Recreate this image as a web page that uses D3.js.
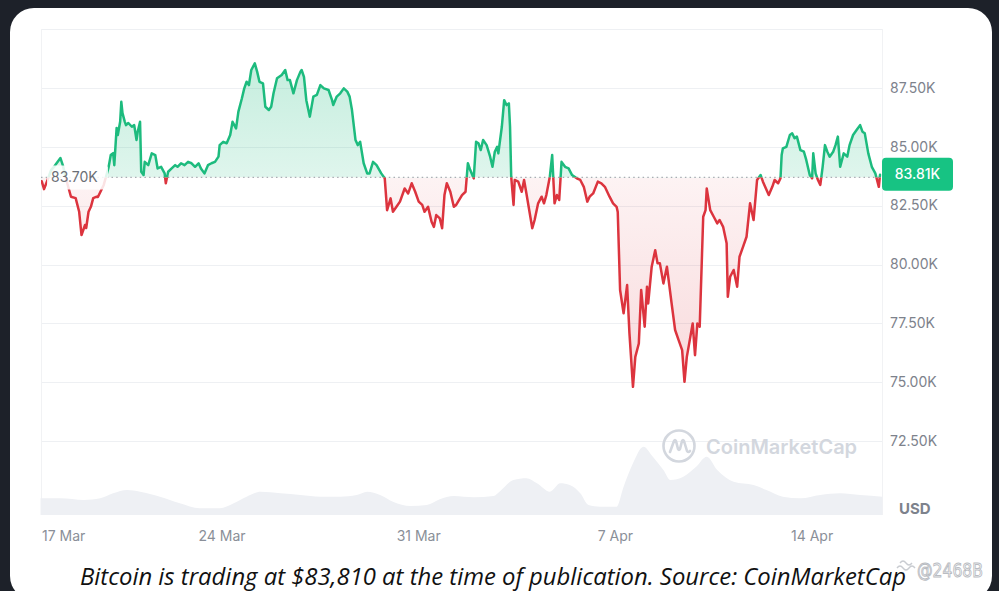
<!DOCTYPE html>
<html>
<head>
<meta charset="utf-8">
<script src="https://cdn.jsdelivr.net/npm/d3@7"></script>
<style>
  html, body { margin: 0; padding: 0; background: #1d2129; }
  svg { display: block; }
</style>
</head>
<body>
<svg id="chart" width="999" height="591"></svg>
<script>
// ---------------- DATA ----------------
const startTime = "2025-03-17T00:00";           // time origin of the hour offsets
const domainHours = [13.4, 731.7];                // visible time window (hours after start)
const baselinePrice = 83700;                      // opening price of the window
const lastPrice = 83810;

// BTC price: hours after startTime, and price in USD
const priceHours = [14,16,19,22,25,30,32,36,39,43,46,48,51,52,54,56,58,61,62,67,71,73,75,76,78,79,81,82,83,85,86,88,91,93,95,96,98,99,101,102,105,108,111,113,116,119,120,122,125,128,130,133,136,139,142,145,148,150,153,156,159,162,165,166,169,172,175,177,180,182,185,187,189,191,193,196,198,200,203,205,208,210,212,215,219,222,224,226,229,232,235,236,238,240,243,246,249,252,255,259,262,263,266,269,272,275,277,279,282,284,286,289,292,294,297,300,304,307,309,312,314,317,320,324,327,330,333,336,339,341,344,347,349,351,354,356,358,360,363,366,368,373,376,378,380,383,385,387,389,391,394,397,399,401,403,404,407,409,411,413,414,415,417,418,421,424,426,428,433,435,438,441,443,445,448,450,452,454,456,458,461,464,467,471,474,477,480,482,485,489,492,495,499,502,505,506,508,511,514,516,519,521,524,526,529,531,532,535,538,540,542,545,548,552,555,558,561,563,565,568,570,572,574,576,579,581,582,585,588,591,593,596,599,600,602,605,608,610,613,616,619,622,625,628,630,635,638,640,643,645,646,647,650,653,655,657,659,662,665,667,670,672,673,675,677,679,681,683,685,687,690,692,694,696,699,702,704,707,710,713,715,717,720,723,726,729,730];
const prices = [83540,83200,83590,84010,84180,84520,84220,83420,82880,82820,82240,81250,81680,81550,82240,82450,82820,82880,82870,83380,84100,84650,84730,84220,85800,85500,86060,86910,86430,86060,85920,86010,85850,85920,85290,85640,86060,83940,83800,84360,84220,84720,84650,84080,84150,83870,83450,83940,84080,84220,84150,84300,84220,84360,84300,84150,84300,84080,83870,84220,84300,84360,84580,85070,85210,85150,85500,86060,85780,86490,87060,87480,87760,87620,88260,88540,88190,87760,87690,86700,86560,86700,87270,87910,88050,88260,87830,87830,87270,87830,88190,88260,87970,86980,86280,87130,87200,87620,87480,87410,86980,86770,87130,87270,87480,87340,87130,86560,85290,85070,85210,84300,83870,83870,84360,84220,83870,83660,82310,82810,82240,82450,82670,83230,83020,83450,83090,82670,82530,82240,82450,81820,81600,82100,81960,81540,82950,83450,83090,82450,82530,82950,83090,84300,84010,83660,85210,85150,84860,85290,85070,84580,84150,84790,85000,84720,85850,86980,86770,86840,85850,83730,82530,83590,83520,83090,83590,83020,81540,81890,82600,82880,82600,82950,83730,84650,82600,82950,82740,84360,84150,84080,83800,83660,83590,83300,82670,82880,83020,83520,83450,83300,82880,82600,82450,82230,78920,77930,79130,77080,74810,76080,76650,78920,77360,79060,78350,79910,80610,80050,80050,79200,79910,78350,77220,76790,76370,75020,76080,76930,77500,76150,77500,77360,82030,82310,83230,82310,82030,81750,81890,81600,80900,78630,79480,79770,79060,80330,80750,81180,82600,81890,83590,83800,83520,82950,83300,83590,83450,83660,84650,84930,85000,85500,85570,85360,85430,84860,84790,84440,83800,83660,84720,83870,83590,83380,84150,85070,84790,84580,84790,85070,85430,84150,84720,84580,85070,85500,85710,85920,85640,85570,84720,84150,83870,83300,83810];

// 24h trading volume (billions USD), hours after startTime
const volumeHours = [13,30,50,64,75,87,98,115,132,149,166,178,189,201,218,235,252,269,283,292,303,314,329,343,354,366,383,400,405,417,428,437,448,457,465,474,481,491,505,511,519,528,536,545,551,562,573,582,591,605,622,633,647,662,679,696,713,732];
const volumes = [16.7,16.7,15,16.7,21.7,25,23.3,18.3,11.7,6.7,6.7,11.7,18.3,23.3,21.7,20,18.3,18.3,20,23.3,20,13.3,9,10,15.7,19,17.7,19,23.3,35,36.7,31.7,23.3,31.7,30,21.7,10,8.3,8.3,28.3,51.7,68.3,58.3,45,35,38.3,48.3,58.3,45,33.3,30,25,18.3,16.7,20,21.7,20,18.3];

const yTicks = [72500, 75000, 77500, 80000, 82500, 85000, 87500];
const xTickDates = ["2025-03-17", "2025-03-24", "2025-03-31", "2025-04-07", "2025-04-14"];
const xTickLabels = ["17 Mar", "24 Mar", "31 Mar", "7 Apr", "14 Apr"];
const captionText = "Bitcoin is trading at $83,810 at the time of publication. Source: CoinMarketCap";

// ---------------- CHART ----------------
const svg = d3.select("#chart");
const W = 999, H = 591;
const plot = { left: 41, right: 882, top: 29, bottom: 515 };
const GREEN = "#1dbb7e", RED = "#dc343e";
const AXIS_GRAY = "#7d828c";

const t0 = d3.isoParse(startTime + ":00");
const hourToDate = h => new Date(t0.getTime() + h * 3600e3);
const parseDay = d3.timeParse("%Y-%m-%d");

const priceData = priceHours.map((h, i) => ({ t: hourToDate(h), v: prices[i] }));
const volData = volumeHours.map((h, i) => ({ t: hourToDate(h), v: volumes[i] }));

const x = d3.scaleTime().domain(domainHours.map(hourToDate)).range([plot.left, plot.right]);
const y = d3.scaleLinear().domain([70000, 90000]).range([500.1, plot.top]);
const yv = d3.scaleLinear().domain([0, 100]).range([plot.bottom, plot.bottom - 100]);

// card background
svg.append("rect").attr("x", 0).attr("y", 0).attr("width", W).attr("height", H).attr("fill", "#1d2129");
svg.append("rect").attr("x", 10).attr("y", 8).attr("width", 982).attr("height", 592)
  .attr("rx", 24).attr("fill", "#ffffff");

const defs = svg.append("defs");
const yBase = y(baselinePrice);
defs.append("clipPath").attr("id", "clipAbove").append("rect")
  .attr("x", plot.left).attr("y", 0).attr("width", plot.right - plot.left).attr("height", yBase);
defs.append("clipPath").attr("id", "clipBelow").append("rect")
  .attr("x", plot.left).attr("y", yBase).attr("width", plot.right - plot.left).attr("height", H - yBase);

const gG = defs.append("linearGradient").attr("id", "gradGreen")
  .attr("gradientUnits", "userSpaceOnUse").attr("x1", 0).attr("x2", 0).attr("y1", plot.top + 30).attr("y2", yBase);
gG.append("stop").attr("offset", 0).attr("stop-color", GREEN).attr("stop-opacity", 0.26);
gG.append("stop").attr("offset", 1).attr("stop-color", GREEN).attr("stop-opacity", 0.14);
const gR = defs.append("linearGradient").attr("id", "gradRed")
  .attr("gradientUnits", "userSpaceOnUse").attr("x1", 0).attr("x2", 0).attr("y1", yBase).attr("y2", y(75000));
gR.append("stop").attr("offset", 0).attr("stop-color", RED).attr("stop-opacity", 0.06);
gR.append("stop").attr("offset", 1).attr("stop-color", RED).attr("stop-opacity", 0.18);

// grid
const grid = svg.append("g");
grid.selectAll("line.h").data(yTicks.concat([90000])).join("line")
  .attr("x1", plot.left).attr("x2", plot.right)
  .attr("y1", d => Math.round(y(d)) + 0.5).attr("y2", d => Math.round(y(d)) + 0.5)
  .attr("stroke", "#eef0f3").attr("stroke-width", 1);
[plot.left, plot.right].forEach(px => {
  grid.append("line").attr("x1", px + 0.5).attr("x2", px + 0.5)
    .attr("y1", plot.top).attr("y2", plot.bottom).attr("stroke", "#f1f2f4");
});

// volume area
svg.append("path").datum(volData)
  .attr("fill", "#eef0f4")
  .attr("d", d3.area().x(d => x(d.t)).y0(plot.bottom).y1(d => yv(d.v)).curve(d3.curveMonotoneX));

// watermark
const wm = svg.append("g").attr("transform", "translate(679,446)");
wm.append("circle").attr("r", 15.5).attr("fill", "none").attr("stroke", "#d3d7de").attr("stroke-width", 2.6);
wm.append("path").attr("d", "M-9,6 L-5,-5 Q-4,-7 -3,-5 L-1,3 Q0,5 1,3 L3,-5 Q4,-7 5,-5 L8,5 Q9,7 11,5")
  .attr("fill", "none").attr("stroke", "#d3d7de").attr("stroke-width", 2.6).attr("stroke-linecap", "round").attr("stroke-linejoin", "round");
svg.append("text").attr("x", 706).attr("y", 453.5).text("CoinMarketCap")
  .attr("font-family", "Inter, 'Noto Sans', sans-serif").attr("font-weight", 600).attr("font-size", 20)
  .attr("fill", "#d3d7de");

// price areas + lines
const area = d3.area().x(d => x(d.t)).y0(yBase).y1(d => y(d.v));
const line = d3.line().x(d => x(d.t)).y(d => y(d.v));
svg.append("path").datum(priceData).attr("clip-path", "url(#clipAbove)")
  .attr("fill", "url(#gradGreen)").attr("d", area);
svg.append("path").datum(priceData).attr("clip-path", "url(#clipBelow)")
  .attr("fill", "url(#gradRed)").attr("d", area);

// baseline dotted
svg.append("line").attr("x1", plot.left).attr("x2", plot.right).attr("y1", yBase).attr("y2", yBase)
  .attr("stroke", "#a8acb3").attr("stroke-width", 1.4).attr("stroke-dasharray", "1.5,3.2");

svg.append("path").datum(priceData).attr("clip-path", "url(#clipAbove)")
  .attr("fill", "none").attr("stroke", GREEN).attr("stroke-width", 2.5)
  .attr("stroke-linejoin", "round").attr("stroke-linecap", "round").attr("d", line);
svg.append("path").datum(priceData).attr("clip-path", "url(#clipBelow)")
  .attr("fill", "none").attr("stroke", RED).attr("stroke-width", 2.5)
  .attr("stroke-linejoin", "round").attr("stroke-linecap", "round").attr("d", line);

// baseline price label (translucent white background)
const baseLabel = (baselinePrice / 1000).toFixed(2) + "K";
svg.append("rect").attr("x", 47).attr("y", yBase - 12).attr("width", 61).attr("height", 24).attr("rx", 3)
  .attr("fill", "rgba(255,255,255,0.86)");
svg.append("text").attr("x", 51).attr("y", yBase + 1).attr("dominant-baseline", "middle")
  .text(baseLabel).attr("font-family", "Inter, 'Noto Sans', sans-serif").attr("font-size", 14)
  .attr("fill", "#6b6f76");

// y axis labels
svg.append("g").selectAll("text").data(yTicks).join("text")
  .attr("x", 890).attr("y", d => y(d) + 1).attr("dominant-baseline", "middle")
  .text(d => (d / 1000).toFixed(2) + "K")
  .attr("font-family", "Inter, 'Noto Sans', sans-serif").attr("font-size", 14).attr("fill", AXIS_GRAY);

// last price tag
const yLast = y(lastPrice);
svg.append("rect").attr("x", 882).attr("y", yLast - 17).attr("width", 71).attr("height", 33).attr("rx", 4)
  .attr("fill", "#17c383");
svg.append("text").attr("x", 917.5).attr("y", yLast + 0).attr("dominant-baseline", "middle").attr("text-anchor", "middle")
  .text((lastPrice / 1000).toFixed(2) + "K")
  .attr("font-family", "Inter, 'Noto Sans', sans-serif").attr("font-weight", 500).attr("font-size", 14).attr("fill", "#ffffff");

// USD
svg.append("text").attr("x", 899).attr("y", 510).attr("dominant-baseline", "middle").text("USD")
  .attr("font-family", "Inter, 'Noto Sans', sans-serif").attr("font-weight", 700).attr("font-size", 15).attr("fill", AXIS_GRAY);

// x axis labels
const xg = svg.append("g");
xTickDates.forEach((ds, i) => {
  const t = xg.append("text").attr("y", 537).attr("dominant-baseline", "middle").text(xTickLabels[i])
    .attr("font-family", "Inter, 'Noto Sans', sans-serif").attr("font-size", 14).attr("fill", "#8a8f98");
  const w = t.node().getComputedTextLength();
  const cx = x(parseDay(ds));
  t.attr("x", Math.max(cx - w / 2, plot.left + 1));
});

// caption
svg.append("text").attr("x", 493).attr("y", 585).attr("text-anchor", "middle").text(captionText)
  .attr("font-family", "'Open Sans', 'Noto Sans', sans-serif").attr("font-style", "italic").attr("font-size", 23.5)
  .attr("textLength", 826).attr("lengthAdjust", "spacingAndGlyphs")
  .attr("fill", "#111111");

// bottom-right account watermark
const acc = svg.append("g");
acc.append("path").attr("d", "M897,568 q3,-4 6,0 t6,0 t6,0 M900,563 q3,-4 6,0 t6,0")
  .attr("fill", "none").attr("stroke", "#c9ccd1").attr("stroke-width", 1.3);
acc.append("text").attr("x", 917).attr("y", 577).text("@2468B")
  .attr("font-family", "'DejaVu Sans', sans-serif").attr("font-size", 19)
  .attr("textLength", 66).attr("lengthAdjust", "spacingAndGlyphs")
  .attr("fill", "rgba(255,255,255,0.6)").attr("stroke", "#b9bcc2").attr("stroke-width", 1);
</script>
</body>
</html>
